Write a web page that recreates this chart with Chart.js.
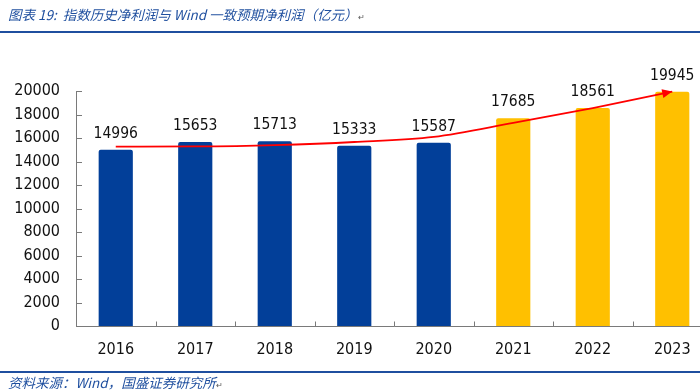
<!DOCTYPE html>
<html>
<head>
<meta charset="utf-8">
<script src="https://cdn.jsdelivr.net/npm/chart.js@4/dist/chart.umd.min.js"></script>
<style>
  html, body { margin:0; padding:0; width:700px; height:391px; overflow:hidden; background:#fff; }
  #wrap { position:absolute; left:0; top:0; width:740px; height:391px; }
  #title { position:absolute; left:8px; top:4px; font-family:"Noto Sans CJK SC", sans-serif; font-style:italic; font-size:13.5px; color:#1f4f9f; white-space:nowrap; }
  #topline { position:absolute; left:0; top:31px; width:700px; height:2px; background:#1f4f9f; }
  #botline { position:absolute; left:0; top:371px; width:700px; height:2px; background:#1f4f9f; }
  #foot { position:absolute; left:8px; top:372px; font-family:"Noto Sans CJK SC", sans-serif; font-style:italic; font-size:13.5px; color:#1f4f9f; white-space:nowrap; }
  .pm { font-size:8px; color:#555; font-style:normal; }
</style>
</head>
<body>
<div id="wrap"><canvas id="c" width="740" height="391"></canvas></div>
<div id="title">图表 19:&nbsp; 指数历史净利润与 Wind 一致预期净利润（亿元）<span class="pm">↵</span></div>
<div id="topline"></div>
<div id="botline"></div>
<div id="foot">资料来源：Wind，国盛证券研究所<span class="pm">↵</span></div>
<script>
const categories = ['2016','2017','2018','2019','2020','2021','2022','2023'];
const profitValues = [14996, 15653, 15713, 15333, 15587, 17685, 18561, 19945];
const trendValues = [15260, 15280, 15400, 15660, 16090, 17280, 18550, 19950];
const yTicks = [0, 2000, 4000, 6000, 8000, 10000, 12000, 14000, 16000, 18000, 20000];

const BLUE = '#023f99';
const GOLD = '#ffc000';
const barColors = categories.map(c => (parseInt(c) >= 2021 ? GOLD : BLUE));
const FONT = "'DejaVu Sans Condensed', 'DejaVu Sans', sans-serif";
const AXIS = '#7a7a7a';

const decorPlugin = {
  id: 'decor',
  afterDatasetsDraw(chart) {
    const ctx = chart.ctx;
    const x = chart.scales.x, y = chart.scales.y;
    const area = chart.chartArea;
    ctx.save();
    ctx.strokeStyle = AXIS; ctx.lineWidth = 1;
    ctx.beginPath();
    ctx.moveTo(area.left + 0.5, y.getPixelForValue(20000));
    ctx.lineTo(area.left + 0.5, y.getPixelForValue(0) + 0.5);
    ctx.lineTo(area.right, y.getPixelForValue(0) + 0.5);
    ctx.stroke();
    ctx.beginPath();
    yTicks.forEach(v => {
      const py = Math.round(y.getPixelForValue(v)) + 0.5;
      ctx.moveTo(area.left, py); ctx.lineTo(area.left + 6, py);
    });
    const y0 = Math.round(y.getPixelForValue(0)) + 0.5;
    for (let i = 0; i < categories.length - 1; i++) {
      const bx = Math.round((x.getPixelForTick(i) + x.getPixelForTick(i + 1)) / 2) + 0.5;
      ctx.moveTo(bx, y0); ctx.lineTo(bx, y0 - 5);
    }
    ctx.stroke();

    const meta = chart.getDatasetMeta(0);
    ctx.fillStyle = '#111';
    ctx.font = "15.5px " + FONT;
    ctx.textAlign = 'center';
    ctx.textBaseline = 'alphabetic';
    meta.data.forEach((bar, i) => {
      ctx.fillText(String(profitValues[i]), bar.x, bar.y - 12);
    });

    const lm = chart.getDatasetMeta(1);
    const pts = lm.data;
    const last = pts[pts.length - 1];
    let fx = last.cp1x, fy = last.cp1y;
    if (fx === undefined || (fx === last.x && fy === last.y)) { fx = pts[pts.length - 2].x; fy = pts[pts.length - 2].y; }
    const ang = Math.atan2(last.y - fy, last.x - fx);
    const L = 10, W = 4.5;
    ctx.fillStyle = '#ff0000';
    ctx.beginPath();
    ctx.moveTo(last.x, last.y);
    ctx.lineTo(last.x - L * Math.cos(ang) + W * Math.sin(ang), last.y - L * Math.sin(ang) - W * Math.cos(ang));
    ctx.lineTo(last.x - L * Math.cos(ang) - W * Math.sin(ang), last.y - L * Math.sin(ang) + W * Math.cos(ang));
    ctx.closePath();
    ctx.fill();
    ctx.restore();
  }
};

new Chart(document.getElementById('c'), {
  data: {
    labels: categories,
    datasets: [
      {
        type: 'bar',
        data: profitValues,
        backgroundColor: barColors,
        borderRadius: 2,
        borderSkipped: 'bottom',
        categoryPercentage: 1,
        barPercentage: 0.43,
        order: 2
      },
      {
        type: 'line',
        data: trendValues,
        borderColor: '#ff0000',
        borderWidth: 1.8,
        pointRadius: 0,
        tension: 0.4,
        cubicInterpolationMode: 'monotone',
        fill: false,
        clip: false,
        order: 1
      }
    ]
  },
  options: {
    responsive: false,
    animation: false,
    devicePixelRatio: 1,
    layout: { padding: { left: 0, right: 28, top: 91, bottom: 0 } },
    plugins: { legend: { display: false }, tooltip: { enabled: false } },
    scales: {
      x: {
        grid: { display: false, drawTicks: false },
        border: { display: false },
        ticks: { color: '#111', font: { family: FONT, size: 16 }, padding: 14, maxRotation: 0 },
        afterFit(s) { s.height = 65; }
      },
      y: {
        min: 0, max: 20000,
        grid: { display: false, drawTicks: false },
        border: { display: false },
        ticks: { stepSize: 2000, color: '#111', font: { family: FONT, size: 16 }, padding: 16,
                 callback: v => String(v) },
        afterFit(s) { s.width = 76; }
      }
    }
  },
  plugins: [decorPlugin]
});
</script>
</body>
</html>
